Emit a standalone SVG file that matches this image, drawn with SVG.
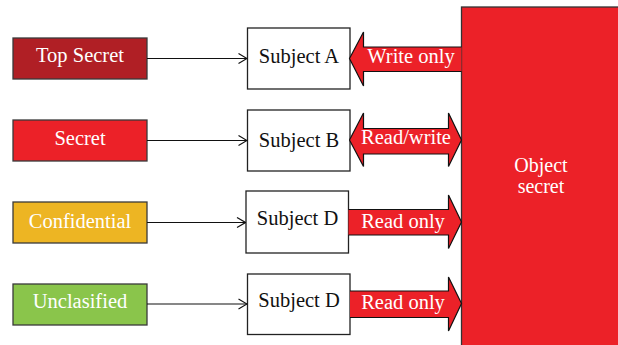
<svg xmlns="http://www.w3.org/2000/svg" width="618" height="345" viewBox="0 0 618 345">
<defs>
<style>
text{font-family:"Liberation Serif","Times New Roman",serif;text-anchor:middle}
.lvl{stroke:#3a3a3a;stroke-width:1.3}
.lvl-t{fill:#fff;font-size:20.5px}
.subj{fill:#fff;stroke:#222;stroke-width:1.3}
.subj-t{fill:#111;font-size:20.5px}
.conn{stroke:#111;stroke-width:1.2;fill:none;marker-end:url(#chev)}
.big{fill:#EC2128;stroke:#111;stroke-width:1.2;stroke-linejoin:miter}
.big-t{fill:#fff;font-size:20.5px}
.obj-t{fill:#fff;font-size:20px}
</style>
<marker id="chev" viewBox="0 0 10 12" refX="9.5" refY="6" markerWidth="10" markerHeight="12" markerUnits="userSpaceOnUse" orient="auto">
<path d="M1,1 L9.5,6 L1,11" fill="none" stroke="#111" stroke-width="1.2"/>
</marker>
</defs>
<rect width="618" height="345" fill="#fff"/>
<g id="object-secret">
<rect x="461.5" y="7" width="160" height="345" fill="#EC2128" stroke="#333" stroke-width="1.3"/>
<text x="541" y="172" class="obj-t">Object</text>
<text x="541" y="192.5" class="obj-t">secret</text>
</g>
<g id="top-secret"><rect class="lvl" x="13" y="38" width="134" height="41" fill="#B01F25"/><text class="lvl-t" x="80" y="62">Top Secret</text></g>
<g id="secret"><rect class="lvl" x="13" y="120" width="134" height="41" fill="#EC2128"/><text class="lvl-t" x="80" y="145">Secret</text></g>
<g id="confidential"><rect class="lvl" x="13" y="202" width="134" height="41" fill="#EDB523"/><text class="lvl-t" x="80" y="228">Confidential</text></g>
<g id="unclasified"><rect class="lvl" x="13" y="284" width="134" height="41" fill="#8AC54B"/><text class="lvl-t" x="80" y="308">Unclasified</text></g>
<g id="subject-a"><rect class="subj" x="247.5" y="28" width="102.5" height="61"/><text class="subj-t" x="299" y="63">Subject A</text></g>
<g id="subject-b"><rect class="subj" x="247.5" y="110" width="102.5" height="61"/><text class="subj-t" x="299" y="147">Subject B</text></g>
<g id="subject-d1"><rect class="subj" x="246" y="191" width="102.5" height="62"/><text class="subj-t" x="297.5" y="225">Subject D</text></g>
<g id="subject-d2"><rect class="subj" x="247.5" y="274" width="102.5" height="60.5"/><text class="subj-t" x="299" y="307">Subject D</text></g>
<g id="connectors">
<line class="conn" x1="147" y1="58.5" x2="247" y2="58.5"/>
<line class="conn" x1="147" y1="140.5" x2="247" y2="140.5"/>
<line class="conn" x1="147" y1="222.5" x2="245.5" y2="222.5"/>
<line class="conn" x1="147" y1="304" x2="247" y2="304"/>
<path class="big" d="M461.5,47 L363.5,47 L363.5,32 L349.5,58.5 L363.5,86 L363.5,71.5 L461.5,71.5"/>
<text class="big-t" x="411" y="63">Write only</text>
<path class="big" d="M349.5,140 L363.5,113 L363.5,128.5 L448.5,128.5 L448.5,113 L461.5,140 L448.5,166.5 L448.5,154 L363.5,154 L363.5,166.5 Z"/>
<text class="big-t" x="406" y="144">Read/write</text>
<path class="big" d="M348.5,209.5 L448.5,209.5 L448.5,195 L461.5,222 L448.5,248.5 L448.5,235 L348.5,235"/>
<text class="big-t" x="403" y="228">Read only</text>
<path class="big" d="M350,291 L448.5,291 L448.5,277 L461.5,303.5 L448.5,331 L448.5,317.5 L350,317.5"/>
<text class="big-t" x="403" y="308.5">Read only</text>
</g>
</svg>
